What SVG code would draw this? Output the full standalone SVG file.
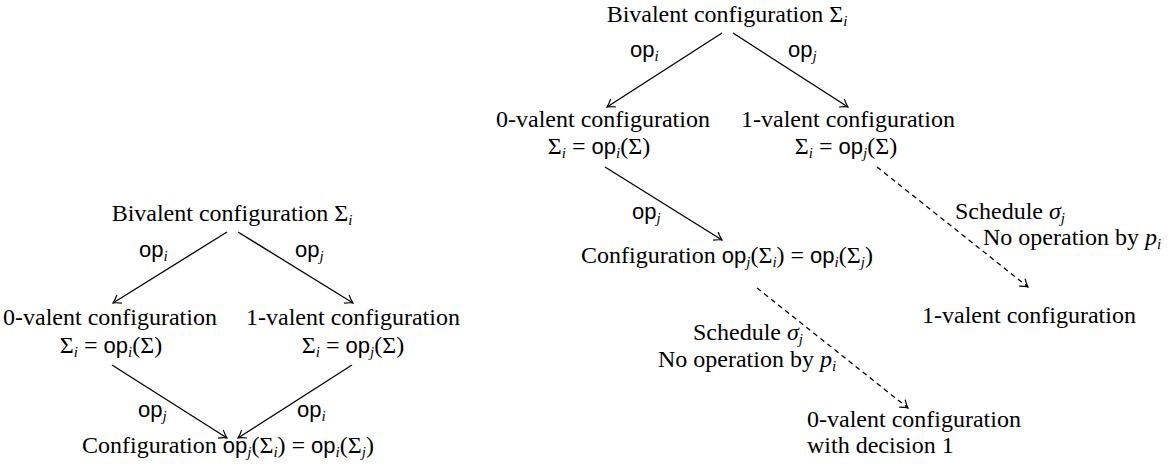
<svg xmlns="http://www.w3.org/2000/svg" width="1169" height="470" viewBox="0 0 1169 470" font-family="Liberation Serif, Times New Roman, serif">
<style>
text{font-family:"Liberation Serif","Times New Roman",serif;font-size:24px;fill:#000}
.m{text-anchor:middle}
.sf{font-family:"Liberation Sans",Arial,sans-serif;font-size:22px}
.sb{font-style:italic;font-size:15px}
.it{font-style:italic}
.ln{fill:none;stroke:#000;stroke-width:1.3}
.ds{stroke-dasharray:5 4}
</style>
<defs>
<marker id="ah" viewBox="-9 -6 11 12" markerWidth="11" markerHeight="12" refX="0" refY="0" orient="auto" markerUnits="userSpaceOnUse">
<path d="M-7.5,-4.8 Q-3,-1.2 0,0 Q-3,1.2 -7.5,4.8" fill="none" stroke="#000" stroke-width="1.2"/>
</marker>
</defs>
<rect width="1169" height="470" fill="#fff"/>

<g id="connectors">
<line class="ln" x1="227" y1="232" x2="113" y2="303" marker-end="url(#ah)"/>
<line class="ln" x1="238" y1="232" x2="353" y2="303" marker-end="url(#ah)"/>
<line class="ln" x1="112" y1="365" x2="227" y2="438" marker-end="url(#ah)"/>
<line class="ln" x1="352" y1="365" x2="238" y2="438" marker-end="url(#ah)"/>
<line class="ln" x1="722" y1="33" x2="607" y2="107" marker-end="url(#ah)"/>
<line class="ln" x1="733" y1="33" x2="848" y2="107" marker-end="url(#ah)"/>
<line class="ln" x1="605" y1="167" x2="722" y2="240" marker-end="url(#ah)"/>
<line class="ln ds" x1="877" y1="167" x2="1028" y2="287" marker-end="url(#ah)"/>
<line class="ln ds" x1="757" y1="288" x2="908" y2="408" marker-end="url(#ah)"/>
</g>

<g id="edge-labels">
<text x="139" y="257"><tspan class="sf">op</tspan><tspan class="sb" dy="4">i</tspan></text>
<text x="295" y="257"><tspan class="sf">op</tspan><tspan class="sb" dy="4">j</tspan></text>
<text x="138" y="417"><tspan class="sf">op</tspan><tspan class="sb" dy="4">j</tspan></text>
<text x="297" y="417"><tspan class="sf">op</tspan><tspan class="sb" dy="4">i</tspan></text>
<text x="630" y="57"><tspan class="sf">op</tspan><tspan class="sb" dy="4">i</tspan></text>
<text x="788" y="57"><tspan class="sf">op</tspan><tspan class="sb" dy="4">j</tspan></text>
<text x="632" y="219"><tspan class="sf">op</tspan><tspan class="sb" dy="4">j</tspan></text>
<text x="955" y="219">Schedule <tspan class="it">σ</tspan><tspan class="sb" dy="4">j</tspan></text>
<text x="983" y="245">No operation by <tspan class="it">p</tspan><tspan class="sb" dy="4">i</tspan></text>
<text class="m" x="748" y="340">Schedule <tspan class="it">σ</tspan><tspan class="sb" dy="4">j</tspan></text>
<text class="m" x="747" y="367">No operation by <tspan class="it">p</tspan><tspan class="sb" dy="4">i</tspan></text>
</g>

<g id="L-bivalent">
<text class="m" x="232" y="221">Bivalent configuration Σ<tspan class="sb" dy="4">i</tspan></text>
</g>
<g id="L-zero">
<text class="m" x="110" y="325">0-valent configuration</text>
<text class="m" x="111" y="353">Σ<tspan class="sb" dy="4">i</tspan><tspan dy="-4"> = </tspan><tspan class="sf">op</tspan><tspan class="sb" dy="4">i</tspan><tspan dy="-4">(Σ)</tspan></text>
</g>
<g id="L-one">
<text class="m" x="353" y="325">1-valent configuration</text>
<text class="m" x="353" y="353">Σ<tspan class="sb" dy="4">i</tspan><tspan dy="-4"> = </tspan><tspan class="sf">op</tspan><tspan class="sb" dy="4">j</tspan><tspan dy="-4">(Σ)</tspan></text>
</g>
<g id="L-config">
<text class="m" x="228" y="453">Configuration <tspan class="sf">op</tspan><tspan class="sb" dy="4">j</tspan><tspan dy="-4">(Σ</tspan><tspan class="sb" dy="4">i</tspan><tspan dy="-4">) = </tspan><tspan class="sf">op</tspan><tspan class="sb" dy="4">i</tspan><tspan dy="-4">(Σ</tspan><tspan class="sb" dy="4">j</tspan><tspan dy="-4">)</tspan></text>
</g>

<g id="R-bivalent">
<text class="m" x="727" y="22">Bivalent configuration Σ<tspan class="sb" dy="4">i</tspan></text>
</g>
<g id="R-zero">
<text class="m" x="603" y="127">0-valent configuration</text>
<text class="m" x="599" y="154">Σ<tspan class="sb" dy="4">i</tspan><tspan dy="-4"> = </tspan><tspan class="sf">op</tspan><tspan class="sb" dy="4">i</tspan><tspan dy="-4">(Σ)</tspan></text>
</g>
<g id="R-one">
<text class="m" x="848" y="127">1-valent configuration</text>
<text class="m" x="846" y="154">Σ<tspan class="sb" dy="4">i</tspan><tspan dy="-4"> = </tspan><tspan class="sf">op</tspan><tspan class="sb" dy="4">j</tspan><tspan dy="-4">(Σ)</tspan></text>
</g>
<g id="R-config">
<text class="m" x="727" y="263">Configuration <tspan class="sf">op</tspan><tspan class="sb" dy="4">j</tspan><tspan dy="-4">(Σ</tspan><tspan class="sb" dy="4">i</tspan><tspan dy="-4">) = </tspan><tspan class="sf">op</tspan><tspan class="sb" dy="4">i</tspan><tspan dy="-4">(Σ</tspan><tspan class="sb" dy="4">j</tspan><tspan dy="-4">)</tspan></text>
</g>
<g id="R-one-final">
<text x="922" y="323">1-valent configuration</text>
</g>
<g id="R-zero-final">
<text x="807" y="427">0-valent configuration</text>
<text x="807" y="453">with decision 1</text>
</g>
</svg>
